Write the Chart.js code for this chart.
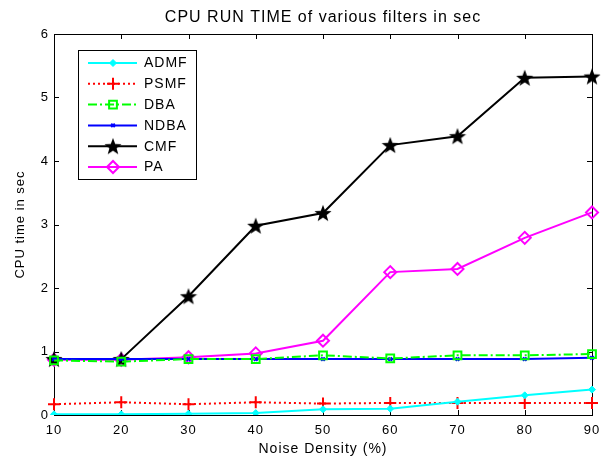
<!DOCTYPE html>
<html>
<head>
<meta charset="utf-8">
<script src="https://cdn.jsdelivr.net/npm/chart.js@4"></script>
<style>
  body { margin: 0; background: #fff; }
  canvas { display: block; }
</style>
</head>
<body>
<canvas id="cpuChart" width="608" height="458"></canvas>
<script>
// noise density (%) on the x axis
const densities = ['10', '20', '30', '40', '50', '60', '70', '80', '90'];

// CPU time in sec
const admf = [0.01, 0.01, 0.02, 0.03, 0.09, 0.10, 0.21, 0.31, 0.40];
const psmf = [0.17, 0.20, 0.17, 0.20, 0.18, 0.19, 0.19, 0.19, 0.19];
const dba  = [0.86, 0.84, 0.88, 0.88, 0.94, 0.89, 0.94, 0.94, 0.96];
const ndba = [0.88, 0.88, 0.88, 0.88, 0.88, 0.88, 0.88, 0.88, 0.90];
const cmf  = [0.88, 0.88, 1.87, 2.98, 3.18, 4.25, 4.39, 5.31, 5.33];
const pa   = [0.87, 0.87, 0.91, 0.97, 1.17, 2.25, 2.30, 2.79, 3.19];

const seriesNames = ['ADMF', 'PSMF', 'DBA', 'NDBA', 'CMF', 'PA'];

// filled five point star, like matlab's pentagram marker
function makeStar(size, color) {
    const c = document.createElement('canvas');
    c.width = size;
    c.height = size;
    const g = c.getContext('2d');
    const cx = size / 2, cy = size / 2 + 0.8;
    const outer = size / 2, inner = outer * 0.42;
    g.beginPath();
    for (let i = 0; i < 10; i++) {
        const r = i % 2 === 0 ? outer : inner;
        const a = -Math.PI / 2 + i * Math.PI / 5;
        const px = cx + r * Math.cos(a), py = cy + r * Math.sin(a);
        if (i === 0) g.moveTo(px, py); else g.lineTo(px, py);
    }
    g.closePath();
    g.fillStyle = color;
    g.fill();
    return c;
}
const starMarker = makeStar(18, '#000000');

const datasets = [
    { label: seriesNames[0], data: admf, borderColor: '#00ffff', backgroundColor: '#00ffff',
      borderWidth: 2, pointStyle: 'rectRot', pointRadius: 3.5, pointBorderWidth: 1 },
    { label: seriesNames[1], data: psmf, borderColor: '#ff0000', backgroundColor: 'rgba(0,0,0,0)',
      borderWidth: 2, borderDash: [2, 3], pointStyle: 'cross', pointRadius: 6, pointBorderWidth: 2 },
    { label: seriesNames[2], data: dba, borderColor: '#00ff00', backgroundColor: 'rgba(0,0,0,0)',
      borderWidth: 2, borderDash: [9, 3, 2, 3], pointStyle: 'rect', pointRadius: 5.5, pointBorderWidth: 2 },
    { label: seriesNames[3], data: ndba, borderColor: '#0000ff', backgroundColor: '#0000ff',
      borderWidth: 2, pointStyle: 'crossRot', pointRadius: 2.5, pointBorderWidth: 2 },
    { label: seriesNames[4], data: cmf, borderColor: '#000000', backgroundColor: '#000000',
      borderWidth: 2, pointStyle: starMarker, pointRadius: 8 },
    { label: seriesNames[5], data: pa, borderColor: '#ff00ff', backgroundColor: 'rgba(0,0,0,0)',
      borderWidth: 2, pointStyle: 'rectRot', pointRadius: 6, pointBorderWidth: 2 }
];

const FONT = 'Arial, "Liberation Sans", sans-serif';

// matlab text is set a bit wider than plain arial
const wideText = {
    id: 'wideText',
    beforeDraw(chart) { chart.ctx.letterSpacing = '1px'; }
};

// matlab style box with inward ticks on all four sides
const axesBox = {
    id: 'axesBox',
    beforeDatasetsDraw(chart) {
        const { ctx, chartArea: a, scales: { x, y } } = chart;
        ctx.save();
        ctx.strokeStyle = '#000';
        ctx.lineWidth = 1;
        ctx.beginPath();
        x.ticks.forEach((t, i) => {
            const px = Math.round(x.getPixelForTick(i)) + 0.5;
            ctx.moveTo(px, a.bottom); ctx.lineTo(px, a.bottom - 5);
            ctx.moveTo(px, a.top); ctx.lineTo(px, a.top + 5);
        });
        y.ticks.forEach(t => {
            const py = Math.round(y.getPixelForValue(t.value)) + 0.5;
            ctx.moveTo(a.left, py); ctx.lineTo(a.left + 5, py);
            ctx.moveTo(a.right, py); ctx.lineTo(a.right - 5, py);
        });
        ctx.stroke();
        ctx.strokeRect(Math.round(a.left) + 0.5, Math.round(a.top) + 0.5,
            Math.round(a.right - a.left), Math.round(a.bottom - a.top));
        ctx.restore();
    },
    afterDraw(chart) {
        const { ctx, chartArea: a } = chart;
        ctx.save();
        ctx.fillStyle = '#000';
        ctx.font = '16px ' + FONT;
        ctx.letterSpacing = '1px';
        ctx.textAlign = 'center';
        ctx.textBaseline = 'middle';
        ctx.fillText('CPU RUN TIME of various filters in sec', (a.left + a.right) / 2, 18);
        ctx.restore();
    }
};

// legend box in the upper left of the plot
const boxLegend = {
    id: 'boxLegend',
    afterDatasetsDraw(chart) {
        const { ctx } = chart;
        const left = 78, top = 50, w = 118, h = 129;
        ctx.save();
        ctx.fillStyle = '#fff';
        ctx.fillRect(left, top, w, h);
        ctx.strokeStyle = '#000';
        ctx.lineWidth = 1;
        ctx.strokeRect(left + 0.5, top + 0.5, w, h);
        chart.data.datasets.forEach((ds, i) => {
            const yy = 63 + i * 20.8;
            ctx.save();
            ctx.strokeStyle = ds.borderColor;
            ctx.lineWidth = ds.borderWidth;
            ctx.setLineDash(ds.borderDash || []);
            ctx.beginPath();
            ctx.moveTo(88, yy);
            ctx.lineTo(137, yy);
            ctx.stroke();
            ctx.setLineDash([]);
            ctx.fillStyle = ds.backgroundColor;
            ctx.lineWidth = ds.pointBorderWidth || 1;
            Chart.helpers.drawPoint(ctx, {
                pointStyle: ds.pointStyle, radius: ds.pointRadius, rotation: 0,
                borderWidth: ds.pointBorderWidth || 1
            }, 113, yy);
            ctx.restore();
            ctx.fillStyle = '#000';
            ctx.font = '14px ' + FONT;
            ctx.letterSpacing = '1px';
            ctx.textAlign = 'left';
            ctx.textBaseline = 'middle';
            ctx.fillText(ds.label, 144, yy + 0.5);
        });
        ctx.restore();
    }
};

const ctx = document.getElementById('cpuChart').getContext('2d');
const cpuChart = new Chart(ctx, {
    type: 'line',
    data: { labels: densities, datasets: datasets },
    plugins: [wideText, axesBox, boxLegend],
    options: {
        responsive: false,
        animation: false,
        layout: { padding: { top: 34, right: 16, left: 0, bottom: 0 } },
        elements: { line: { tension: 0 } },
        plugins: {
            legend: { display: false },
            tooltip: { enabled: false },
            title: { display: false }
        },
        scales: {
            x: {
                type: 'category',
                offset: false,
                grid: { display: false, drawTicks: false },
                border: { display: false },
                ticks: { color: '#000', padding: 8, font: { family: FONT, size: 13 }, maxRotation: 0 },
                title: {
                    display: true, text: 'Noise Density (%)', color: '#000',
                    font: { family: FONT, size: 14 }, padding: { top: 0, bottom: 0 }
                },
                afterFit(scale) { scale.height = 43; }
            },
            y: {
                min: 0,
                max: 6,
                grid: { display: false, drawTicks: false },
                border: { display: false },
                ticks: { stepSize: 1, color: '#000', padding: 5, font: { family: FONT, size: 13 } },
                title: {
                    display: true, text: 'CPU time in sec', color: '#000',
                    font: { family: FONT, size: 13 }, padding: { top: 13, bottom: 0 }
                },
                afterFit(scale) { scale.width = 54; }
            }
        }
    }
});
</script>
</body>
</html>
